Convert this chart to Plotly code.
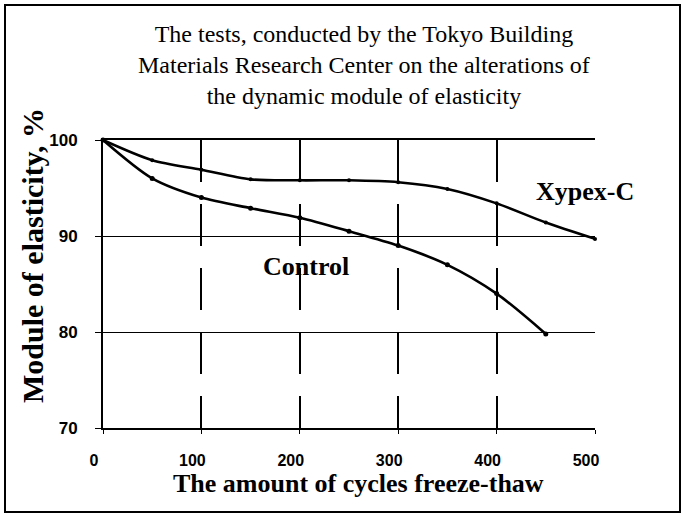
import plotly.graph_objects as go

# Data
cycles_xypex = [0, 50, 100, 150, 200, 250, 300, 350, 400, 450, 500]
xypex_values = [100, 97.9, 96.9, 95.9, 95.8, 95.8, 95.6, 94.9, 93.4, 91.4, 89.7]

cycles_control = [0, 50, 100, 150, 200, 250, 300, 350, 400, 450]
control_values = [100, 96.0, 94.0, 92.9, 91.9, 90.5, 89.0, 87.0, 84.0, 79.8]

x_ticks = [0, 100, 200, 300, 400, 500]
y_ticks = [70, 80, 90, 100]

title_text = ("The tests, conducted by the Tokyo Building<br>"
              "Materials Research Center on the alterations of<br>"
              "the dynamic module of elasticity")
x_title = "The amount of cycles freeze-thaw"
y_title = "Module of elasticity, %"

SERIF = "Liberation Serif"
SANS = "Liberation Sans"

fig = go.Figure()
fig.add_trace(go.Scatter(
    x=cycles_xypex, y=xypex_values, mode="lines+markers",
    line=dict(color="black", width=2.6, shape="spline", smoothing=0.8),
    marker=dict(size=4, color="black"), cliponaxis=False, name="Xypex-C",
    showlegend=False))
fig.add_trace(go.Scatter(
    x=cycles_control, y=control_values, mode="lines+markers",
    line=dict(color="black", width=2.6, shape="spline", smoothing=0.8),
    marker=dict(size=5, color="black"), cliponaxis=False, name="Control",
    showlegend=False))

L, R, T, B = 103, 89, 140, 94
W, H = 684, 522
pw, ph = W - L - R, H - T - B

def px_to_paper_x(px):
    return (px - L) / pw

def px_to_paper_y(py):
    return (H - B - py) / ph

fig.update_layout(
    width=W, height=H,
    margin=dict(l=L, r=R, t=T, b=B, pad=0),
    paper_bgcolor="white", plot_bgcolor="white",
    showlegend=False,
    xaxis=dict(
        range=[0, 500], tickvals=x_ticks, ticktext=[str(v) for v in x_ticks],
        showline=True, linecolor="black", linewidth=2, mirror=True,
        showgrid=True, gridcolor="black", gridwidth=1.6, griddash="42px,22px",
        zeroline=False, ticks="outside", ticklen=4, tickcolor="black",
        ticklabelstandoff=13, ticklabelshift=-9,
        tickfont=dict(family=SANS, size=16, color="black", weight="bold"),
    ),
    yaxis=dict(
        range=[70, 100], tickvals=y_ticks, ticktext=[str(v) for v in y_ticks],
        showline=True, linecolor="black", linewidth=2, mirror=False,
        showgrid=True, gridcolor="black", gridwidth=1.4,
        zeroline=False, ticks="outside", ticklen=6, tickcolor="black",
        ticklabelstandoff=14,
        tickfont=dict(family=SANS, size=17, color="black", weight="bold"),
    ),
)

# Outer frame around the whole picture
fig.add_shape(type="rect", xref="paper", yref="paper",
              x0=px_to_paper_x(5), x1=px_to_paper_x(680),
              y0=px_to_paper_y(512), y1=px_to_paper_y(5),
              line=dict(color="black", width=2), layer="below")

annos = [
    dict(text=title_text, x=px_to_paper_x(364), y=px_to_paper_y(65),
         font=dict(family=SERIF, size=24, color="black")),
    dict(text="<b>" + x_title + "</b>", x=px_to_paper_x(358), y=px_to_paper_y(483),
         font=dict(family=SERIF, size=26, color="black")),
    dict(text="<b>" + y_title + "</b>", x=px_to_paper_x(32), y=px_to_paper_y(256),
         textangle=-90, font=dict(family=SERIF, size=30, color="black")),
]
for a in annos:
    fig.add_annotation(xref="paper", yref="paper", showarrow=False,
                       xanchor="center", yanchor="middle", align="center", **a)

fig.add_annotation(x=206, y=86.8, xref="x", yref="y", text="<b>Control</b>",
                   showarrow=False, font=dict(family=SERIF, size=26, color="black"))
fig.add_annotation(x=490, y=94.6, xref="x", yref="y", text="<b>Xypex-C</b>",
                   showarrow=False, font=dict(family=SERIF, size=26, color="black"))

fig.write_html("out.html", config={"displayModeBar": False},
               post_script="document.body.style.margin='0';")
